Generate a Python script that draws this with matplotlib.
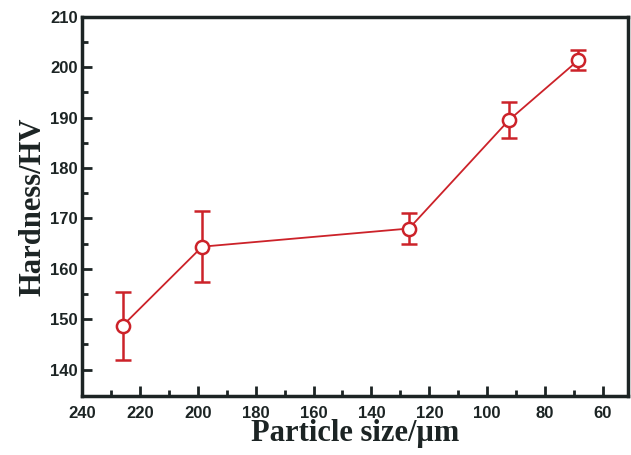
import numpy as np
import matplotlib.pyplot as plt

# particle size (um), hardness (HV) and error bars
size = [226, 198.5, 127, 92.5, 68.5]
hardness = [148.7, 164.4, 168.0, 189.5, 201.4]
err = [6.7, 7.0, 3.0, 3.6, 2.0]

xticks = [240, 220, 200, 180, 160, 140, 120, 100, 80, 60]
yticks = [140, 150, 160, 170, 180, 190, 200, 210]

red = '#cc2229'
dark = '#1c2424'

fig = plt.figure(figsize=(6.31, 4.55), dpi=100)
ax = fig.add_axes([0.130, 0.130, 0.865, 0.833])

ax.errorbar(size, hardness, yerr=err, color=red, lw=1.3, marker='o',
            ms=9.5, mfc='white', mec=red, mew=1.8, capsize=6, capthick=1.8,
            elinewidth=1.8)

ax.set_xlim(240, 51.4)
ax.set_ylim(134.8, 210)
ax.set_xticks(xticks)
ax.set_yticks(yticks)
ax.set_xticks(np.arange(230, 50, -20), minor=True)
ax.set_yticks(np.arange(145, 210, 10), minor=True)

for s in ax.spines.values():
    s.set_linewidth(2.5)
    s.set_color(dark)
ax.tick_params(which='both', direction='in', color=dark, width=2,
               top=False, right=False)
ax.tick_params(which='major', length=7)
ax.tick_params(which='minor', length=4)
for lab in ax.get_xticklabels() + ax.get_yticklabels():
    lab.set_family('Liberation Sans')
    lab.set_weight('bold')
    lab.set_fontsize(12)
    lab.set_color(dark)
ax.tick_params(axis='x', pad=7)
ax.tick_params(axis='y', pad=3)

ax.set_xlabel('Particle size/\u03bcm', family='Liberation Serif', weight='bold',
              fontsize=22, color=dark, labelpad=-1)
ax.set_ylabel('Hardness/HV', family='Liberation Serif', weight='bold',
              fontsize=22, color=dark, labelpad=2)

fig.savefig('out.png', dpi=100)
